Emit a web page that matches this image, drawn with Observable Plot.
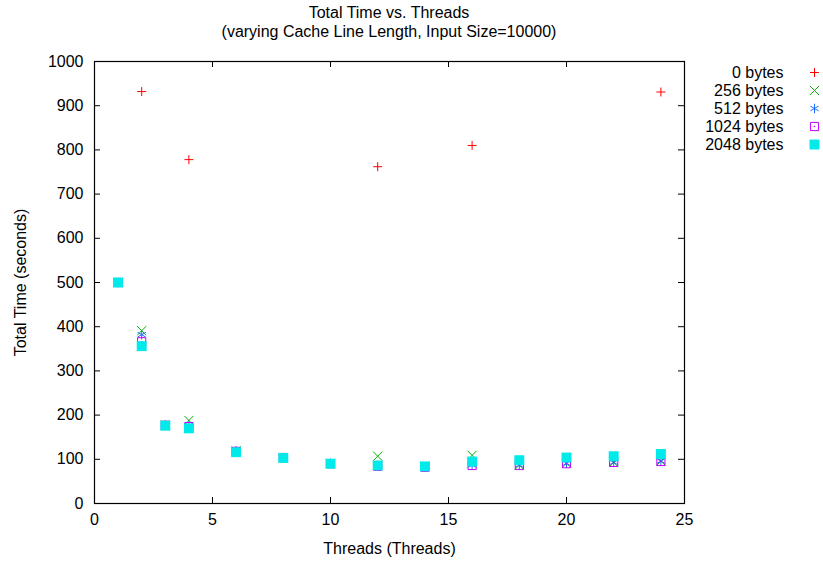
<!DOCTYPE html>
<html>
<head>
<meta charset="utf-8">
<script src="https://cdn.jsdelivr.net/npm/d3@7"></script>
<script src="https://cdn.jsdelivr.net/npm/@observablehq/plot@0.6"></script>
<style>
  body { margin: 0; background: #fff; }
  #wrap { position: relative; width: 823px; height: 563px; font-family: "Liberation Sans", Arial, sans-serif; }
  #title { position: absolute; left: 0; width: 778px; top: 3px; text-align: center; font-size: 16px; line-height: 19px; color: #000; }
  #legend { position: absolute; left: 684px; top: 0; }
  #chart { position: absolute; left: 0; top: 0; }
</style>
</head>
<body>
<div id="wrap">
  <div id="chart"></div>
  <div id="legend"></div>
  <div id="title">Total Time vs. Threads<br>(varying Cache Line Length, Input Size=10000)</div>
</div>
<script>
// ---- data ----
const threads = [1, 2, 3, 4, 6, 8, 10, 12, 14, 16, 18, 20, 22, 24];
const threads0 = [2, 4, 12, 16, 24];
const bytes0 = [932, 778, 762, 810, 931];
const bytes256 = [500, 391, 178, 188, 119, 104, 91, 107, 84, 109, 87, 91, 93, 96];
const bytes512 = [500, 382, 178, 176, 119, 104, 91, 86, 83, 87, 87, 91, 93, 96];
const bytes1024 = [500, 366, 177, 174, 118, 104, 90, 84, 82, 86, 86, 90, 93, 95];
const bytes2048 = [500, 356, 176, 170, 116, 103, 90, 86, 84, 95, 98, 104, 107, 112];
const seriesLabels = ["0 bytes", "256 bytes", "512 bytes", "1024 bytes", "2048 bytes"];
const xTicks = [0, 5, 10, 15, 20, 25];
const yTicks = [0, 100, 200, 300, 400, 500, 600, 700, 800, 900, 1000];

// ---- styles ----
const colors = ["#ff0000", "#00b400", "#1a6cff", "#c000ff", "#00eaea"];
const styles = [
  {symbol: "plus", stroke: colors[0], fill: "none", r: 3, strokeWidth: 1},
  {symbol: "times", stroke: colors[1], fill: "none", r: 4.2, strokeWidth: 1},
  {symbol: "asterisk", stroke: colors[2], fill: "none", r: 4.5, strokeWidth: 1},
  {symbol: "square", stroke: colors[3], fill: "none", r: 4.6, strokeWidth: 1},
  {symbol: "square", stroke: "none", fill: colors[4], r: 5.6, strokeWidth: 0}
];

const rows = (xs, ys) => xs.map((x, i) => ({x, y: ys[i]}));
const series = [
  rows(threads0, bytes0),
  rows(threads, bytes256),
  rows(threads, bytes512),
  rows(threads, bytes1024),
  rows(threads, bytes2048)
];

const W = 823, H = 563;
const mL = 94, mR = 139, mT = 61, mB = 60;
const innerW = W - mL - mR, innerH = H - mT - mB;
const font = {fontFamily: "'Liberation Sans', Arial, sans-serif", fontSize: "16px", color: "#000"};

const dotMarks = series.map((data, i) => Plot.dot(data, {x: "x", y: "y", ...styles[i]}));
// center dot of 1024 marker
dotMarks.splice(4, 0, Plot.dot(series[3], {x: "x", y: "y", r: 0.8, fill: colors[3], stroke: "none"}));

const chart = Plot.plot({
  width: W, height: H,
  marginLeft: mL, marginRight: mR, marginTop: mT, marginBottom: mB,
  style: {...font, background: "#fff"},
  x: {domain: [0, 25]},
  y: {domain: [0, 1000]},
  marks: [
    // inward ticks on all four sides
    Plot.ruleX(xTicks, {x: d => d, insetTop: innerH - 6, stroke: "#000"}),
    Plot.ruleX(xTicks, {x: d => d, insetBottom: innerH - 6, stroke: "#000"}),
    Plot.ruleY(yTicks, {y: d => d, insetRight: innerW - 6, stroke: "#000"}),
    Plot.ruleY(yTicks, {y: d => d, insetLeft: innerW - 6, stroke: "#000"}),
    Plot.axisX({ticks: xTicks, tickFormat: d => String(d), tickSize: 0, tickPadding: 10, label: "Threads (Threads)", labelAnchor: "center", labelOffset: 50, labelArrow: "none"}),
    Plot.axisY({ticks: yTicks, tickFormat: d => String(d), tickSize: 0, tickPadding: 11, label: "Total Time (seconds)", labelAnchor: "center", labelOffset: 80, labelArrow: "none"}),
    ...dotMarks,
    Plot.frame({stroke: "#000", strokeWidth: 1.2})
  ]
});
document.getElementById("chart").appendChild(chart);

// ---- legend ----
const legendRows = seriesLabels.map((label, i) => ({label, i}));
const legend = Plot.plot({
  width: W - 684, height: H,
  margin: 0,
  style: {...font, background: "transparent"},
  x: {type: "point", domain: ["text", "symbol"], range: [99, 130], padding: 0, axis: null},
  y: {type: "point", domain: seriesLabels, range: [70, 145], padding: 0, axis: null},
  marks: [
    Plot.text(legendRows, {x: () => "text", y: "label", text: "label", textAnchor: "end", fill: "#000"}),
    ...legendRows.map(d => Plot.dot([d], {x: () => "symbol", y: "label", ...styles[d.i]})),
    Plot.dot([legendRows[3]], {x: () => "symbol", y: "label", r: 0.8, fill: colors[3], stroke: "none"})
  ]
});
document.getElementById("legend").appendChild(legend);
</script>
</body>
</html>
